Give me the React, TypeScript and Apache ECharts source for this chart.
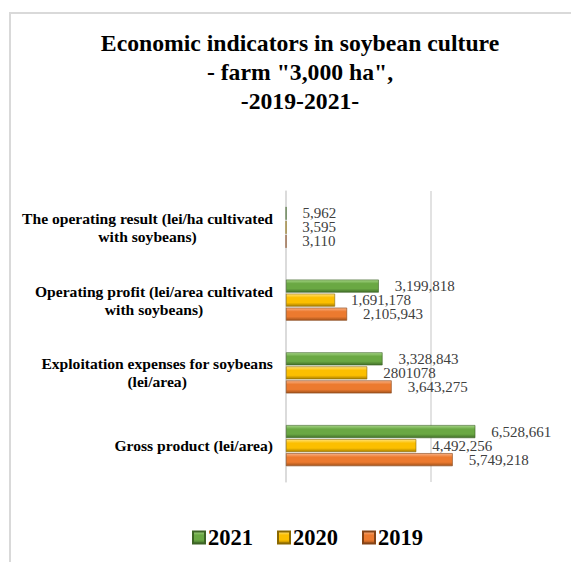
import React, { useEffect, useRef } from "react";
import * as echarts from "echarts";

// Categories from bottom to top of the chart
const categories = [
  "Gross product (lei/area)",
  "Exploitation expenses for soybeans\n(lei/area)",
  "Operating profit (lei/area cultivated\nwith soybeans)",
  "The operating result (lei/ha cultivated\nwith soybeans)",
];
const years = ["2021", "2020", "2019"];
const values2021 = [6528661, 3328843, 3199818, 5962];
const values2020 = [4492256, 2801078, 1691178, 3595];
const values2019 = [5749218, 3643275, 2105943, 3110];
const unformattedLabels = [2801078];
const axisMax = 10000000;
const axisInterval = 5000000;

const serif = "Liberation Serif";

const grad = (top: string, mid: string, bottom: string) =>
  new echarts.graphic.LinearGradient(0, 0, 0, 1, [
    { offset: 0, color: top },
    { offset: 0.3, color: mid },
    { offset: 0.7, color: mid },
    { offset: 1, color: bottom },
  ]);

const fmt = (v: number) =>
  unformattedLabels.includes(v) ? String(v) : v.toLocaleString("en-US");

export default function App() {
  const ref = useRef<HTMLDivElement>(null);
  useEffect(() => {
    if (!ref.current) return;
    const chart = echarts.init(ref.current, null, { renderer: "svg" });
    const seriesDefs = [
      { name: years[0], data: values2021, color: grad("#a6d587", "#6aa843", "#42702a"), border: "#3d6325" },
      { name: years[1], data: values2020, color: grad("#ffe27a", "#fcbf00", "#a87e00"), border: "#8a6800" },
      { name: years[2], data: values2019, color: grad("#f9b184", "#ec7a2f", "#a3531c"), border: "#844316" },
    ];
    chart.setOption({
      animation: false,
      title: {
        text: 'Economic indicators in soybean culture\n- farm "3,000 ha",\n-2019-2021-',
        left: "center",
        top: 28,
        padding: 0,
        textStyle: {
          fontFamily: serif,
          fontWeight: "bold",
          fontSize: 23.7,
          lineHeight: 29,
          color: "#000",
          align: "center",
        },
      },
      legend: {
        data: years,
        left: 187,
        top: 521,
        icon: "rect",
        itemWidth: 12,
        itemHeight: 12,
        itemGap: 24,
        textStyle: { fontFamily: serif, fontWeight: "bold", fontSize: 22.5, color: "#000", padding: [0, 0, 0, -2] },
      },
      grid: { left: 286, top: 191, width: 290, height: 291, containLabel: false },
      xAxis: {
        type: "value",
        min: 0,
        max: axisMax,
        interval: axisInterval,
        axisLabel: { show: false },
        axisLine: { show: false },
        axisTick: { show: false },
        splitLine: { show: true, lineStyle: { color: "#d9d9d9", width: 1.5 } },
      },
      yAxis: {
        type: "category",
        data: categories,
        axisTick: { show: false },
        axisLine: { show: true, lineStyle: { color: "#d9d9d9", width: 1.5 } },
        axisLabel: {
          margin: 13,
          align: "right",
          formatter: (v: string) =>
            v
              .split("\n")
              .map((l) => `{c|${l}}`)
              .join("\n"),
          rich: {
            c: {
              align: "center",
              fontFamily: serif,
              fontWeight: "bold",
              fontSize: 15.6,
              lineHeight: 18,
              color: "#000",
            },
          },
        },
      },
      series: seriesDefs.map((s) => ({
        type: "bar",
        name: s.name,
        barWidth: 13,
        barGap: "8%",
        itemStyle: { color: s.color, borderColor: s.border, borderWidth: 0.6 },
        label: {
          show: true,
          position: "right",
          distance: 16,
          fontFamily: serif,
          fontSize: 15,
          lineHeight: 13,
          color: "#404040",
          formatter: (p: any) => fmt(p.value),
        },
        data: s.data,
      })),
    });
    return () => chart.dispose();
  }, []);
  return (
    <div
      style={{
        position: "absolute",
        left: 0,
        top: 0,
        width: 571,
        height: 562,
        overflow: "hidden",
        background: "#fff",
      }}
    >
      <div
        style={{
          position: "absolute",
          left: 9,
          top: 12,
          width: 620,
          height: 620,
          borderTop: "2px solid #d9d9d9",
          borderLeft: "2px solid #d9d9d9",
        }}
      />
      <div
        ref={ref}
        style={{ position: "absolute", left: 0, top: 0, width: 600, height: 600 }}
      />
    </div>
  );
}
